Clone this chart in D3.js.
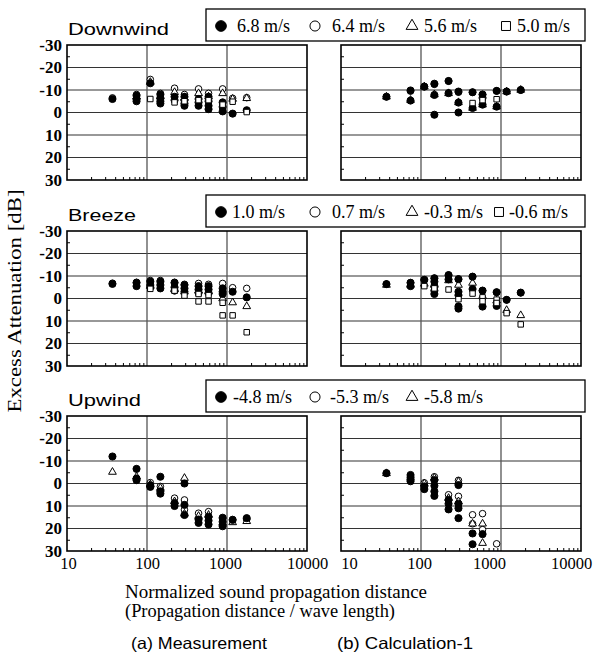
<!DOCTYPE html>
<html>
<head>
<meta charset="utf-8">
<script src="https://cdn.jsdelivr.net/npm/d3@7"></script>
<style>
  body { margin: 0; background: #fff; }
  svg { display: block; }
</style>
</head>
<body>
<div id="chart"></div>
<script>
// ---- tick values ----
const xTicks = [10, 100, 1000, 10000];
const xMinor = [20, 30, 40, 50, 60, 70, 80, 90, 200, 300, 400, 500, 600, 700, 800, 900,
                2000, 3000, 4000, 5000, 6000, 7000, 8000, 9000];
const yTicks = [-30, -20, -10, 0, 10, 20, 30];
const yMinor = [-25, -15, -5, 5, 15, 25];
const yGrid = [-20, -10, 0, 10, 20];
const xGrid = [100, 1000];

// ---- text ----
const rowTitles = ["Downwind", "Breeze", "Upwind"];
const legendLabels = [
  ["6.8 m/s", "6.4 m/s", "5.6 m/s", "5.0 m/s"],
  ["1.0 m/s", "0.7 m/s", "-0.3 m/s", "-0.6 m/s"],
  ["-4.8 m/s", "-5.3 m/s", "-5.8 m/s"]
];
const columnTitles = ["(a) Measurement", "(b) Calculation-1"];
const yLabel = "Excess Attenuation [dB]";
const xLabel = ["Normalized sound propagation distance", "(Propagation distance / wave length)"];

// ---- data: [distance, excess attenuation dB] ----
// Downwind, measurement
const dwMeasA = [[37,-6],[74,-7.5],[74,-6],[74,-5],[110,-13],[147,-8],[147,-6.5],[147,-5],[147,-4],[221,-7],[221,-5.5],[294,-7],[294,-5.5],[294,-4],[294,-3],[441,-6],[441,-4.5],[441,-3],[588,-7],[588,-5],[588,-3],[588,-1.5],[882,-4.5],[882,-2.5],[882,-0.5],[1176,0.5],[1764,-1]];
const dwMeasB = [[37,-6.5],[74,-8],[110,-14.7],[147,-8.5],[221,-10.8],[294,-8],[441,-10.5],[588,-8.5],[882,-10.5],[1176,-6.3],[1764,-6.6]];
const dwMeasC = [[74,-7],[110,-13.5],[147,-7],[221,-9],[294,-6.5],[441,-8.5],[588,-7],[882,-8.5],[1176,-6],[1764,-6.3]];
const dwMeasD = [[110,-6],[221,-4.5],[294,-5],[441,-5.5],[588,-5.5],[882,-3.5],[1176,-4.8],[1764,-0.2]];
// Downwind, calculation
const dwCalcA = [[37,-7],[74,-9.8],[74,-5.3],[110,-11.5],[147,-12.8],[147,-7.8],[147,1],[221,-14],[221,-8.6],[294,-9.3],[294,-4.4],[294,0],[441,-9],[441,-2],[588,-8],[588,-6.5],[588,-3.5],[882,-9.6],[882,-2.6],[1176,-9.3],[1764,-10]];
const dwCalcB = [[37,-7],[74,-9.5],[110,-11.5],[147,-12.5],[221,-14],[294,-9],[441,-9],[588,-8],[882,-9.6],[1176,-9.3],[1764,-10]];
const dwCalcC = [[37,-7],[74,-5.5],[110,-11.5],[147,-8],[221,-8.5],[294,-4.5],[441,-2],[588,-3.5],[882,-2.6],[1176,-9.3],[1764,-10]];
const dwCalcD = [[441,-4.2],[588,-5.5],[882,-5.9]];
// Breeze, measurement
const brMeasA = [[37,-6.5],[74,-7],[74,-5.5],[110,-7.5],[110,-6],[110,-5],[147,-7.5],[147,-6],[147,-4.5],[221,-7],[221,-5],[221,-3.5],[294,-6],[294,-4.5],[294,-3],[441,-5.5],[441,-4],[441,-2.5],[588,-5.5],[588,-4],[588,-2.5],[882,-4.5],[882,-3],[882,-2],[1176,-3],[1764,-0.5]];
const brMeasB = [[37,-6.8],[74,-7.2],[110,-8],[147,-8],[221,-7.2],[294,-6.3],[441,-6.7],[588,-6.3],[882,-6.7],[1176,-4.8],[1764,-4.5]];
const brMeasC = [[110,-5.5],[221,-4],[294,-3],[441,-3.5],[588,-3],[882,0],[1176,1.8],[1764,3.5]];
const brMeasD = [[110,-4.3],[221,-3.5],[294,-1.3],[441,-2],[441,1.3],[588,-1.5],[588,1.3],[882,1.9],[882,7.5],[1176,7.5],[1764,15]];
// Breeze, calculation
const brCalcA = [[37,-6.4],[74,-7],[74,-5.5],[110,-8.3],[147,-9],[147,-7.5],[147,-5.5],[147,-3.5],[147,-2],[221,-10.4],[221,-8.5],[294,-8.6],[294,-3],[294,-1.5],[294,3.5],[294,4.5],[441,-9.7],[441,-4.2],[588,-3.5],[588,3.6],[882,-2.8],[882,3.3],[1176,0.6],[1764,-2.6]];
const brCalcB = [[37,-6.4],[74,-7],[110,-8.3],[147,-9],[221,-10.4],[294,-8.6],[441,-9.7],[588,-3.5],[882,-2.8],[1176,0.6],[1764,-2.6]];
const brCalcC = [[37,-6],[74,-6],[110,-6.5],[147,-6],[221,-8],[294,-6],[441,-6.9],[588,-1],[882,1],[1176,5.2],[1764,7.5]];
const brCalcD = [[110,-5.5],[147,-4.5],[221,-4],[294,0.3],[441,-2.2],[588,-0.5],[588,1.2],[882,0.5],[882,2],[1176,6.5],[1764,11.5]];
// Upwind, measurement
const upMeasA = [[37,-12],[74,-6.5],[74,-2.2],[74,-1.5],[110,0.8],[110,1.5],[147,-3],[147,3.5],[147,4.5],[221,8.7],[221,10],[294,0],[294,9.5],[294,14],[441,16],[441,17.5],[588,14.8],[588,16.5],[588,18.2],[882,15.2],[882,17],[882,19],[1176,16.2],[1764,15.4]];
const upMeasB = [[110,-0.4],[147,1.3],[221,6.5],[294,7.3],[294,11.7],[441,13.2],[588,12.5],[882,15.5],[1176,16],[1764,16]];
const upMeasC = [[37,-5.1],[74,-3],[110,0.5],[147,2],[221,8],[294,-2.4],[294,13.5],[441,14.5],[588,14],[882,17.5],[1176,17.3],[1764,16.8]];
// Upwind, calculation
const upCalcA = [[37,-4.6],[74,-3.8],[74,-2.5],[74,-1],[110,1.3],[110,2.5],[147,-1.5],[147,1],[147,3.5],[147,5.5],[221,7.3],[221,9],[221,11.5],[294,0.7],[294,9],[294,11],[294,15.4],[441,22.2],[441,27],[588,22.5]];
const upCalcB = [[37,-4.6],[74,-3],[110,-0.3],[147,-3],[221,5],[294,-1.4],[294,5.7],[441,13.9],[441,17.9],[588,13.4],[588,20.5],[882,26.8]];
const upCalcC = [[37,-4.5],[74,-2.5],[110,0],[147,-2.5],[221,6.5],[294,-0.8],[294,8],[441,17.9],[588,17.9],[588,26.5]];

// panels[row][col] -> list of series (filled circle, open circle, triangle, square)
const panels = [
  [[dwMeasA, dwMeasB, dwMeasC, dwMeasD], [dwCalcA, dwCalcB, dwCalcC, dwCalcD]],
  [[brMeasA, brMeasB, brMeasC, brMeasD], [brCalcA, brCalcB, brCalcC, brCalcD]],
  [[upMeasA, upMeasB, upMeasC], [upCalcA, upCalcB, upCalcC]]
];

// ---- layout ----
const W = 597, H = 663;
const colX = [67, 341], rowY = [45, 231, 416];
const plotW = 240, plotH = 135;
const serif = "'Liberation Serif', 'Times New Roman', serif";
const sans = "'Liberation Sans', Arial, sans-serif";
const titleLen = [101, 68, 73];
const legendSymX = [[221, 315, 412, 506], [221, 315, 412, 499], [221, 315, 412]];
const legendTextX = [[237, 332, 424, 517], [232, 332, 424, 509], [233, 330, 424]];
// x-label nudges for the bottom row, as set in the original figure
const xLabelShift = [[1, 0, -2, 0], [8, -2, -12, -10]];

const styles = [
  { type: d3.symbolCircle,   fill: "#000", size: 40, legendSize: 90 },
  { type: d3.symbolCircle,   fill: "#fff", size: 34, legendSize: 80 },
  { type: d3.symbolTriangle, fill: "#fff", size: 26, legendSize: 60 },
  { type: d3.symbolSquare,   fill: "#fff", size: 30, legendSize: 80 }
];
const drawOrder = [1, 2, 0, 3];

const x = d3.scaleLog().domain([10, 10000]).range([0, plotW]);
const y = d3.scaleLinear().domain([-30, 30]).range([0, plotH]);

const svg = d3.select("#chart").append("svg")
  .attr("width", W).attr("height", H);

rowTitles.forEach((title, r) => {
  const top = rowY[r];

  // row title
  svg.append("text")
    .attr("x", 68).attr("y", top - 10.5)
    .attr("font-family", sans).attr("font-size", 16)
    .attr("textLength", titleLen[r]).attr("lengthAdjust", "spacingAndGlyphs")
    .text(title);

  // legend box
  const lg = svg.append("g");
  lg.append("rect")
    .attr("x", 206).attr("y", top - 36).attr("width", 379).attr("height", 32)
    .attr("fill", "#fff").attr("stroke", "#000").attr("stroke-width", 1.3);
  legendLabels[r].forEach((lab, i) => {
    const st = styles[i];
    lg.append("path")
      .attr("transform", `translate(${legendSymX[r][i]},${top - 19})`)
      .attr("d", d3.symbol().type(st.type).size(st.legendSize)())
      .attr("fill", st.fill).attr("stroke", "#000").attr("stroke-width", 1);
    lg.append("text")
      .attr("x", legendTextX[r][i]).attr("y", top - 13)
      .attr("font-family", serif).attr("font-size", 18)
      .text(lab);
  });

  [0, 1].forEach(c => {
    const g = svg.append("g").attr("transform", `translate(${colX[c]},${top})`);

    // grid lines
    g.append("g").selectAll("line").data(yGrid).join("line")
      .attr("x1", 0).attr("x2", plotW)
      .attr("y1", d => y(d)).attr("y2", d => y(d))
      .attr("stroke", "#333").attr("stroke-width", 1.2);
    g.append("g").selectAll("line").data(xGrid).join("line")
      .attr("x1", d => x(d)).attr("x2", d => x(d))
      .attr("y1", 0).attr("y2", plotH)
      .attr("stroke", "#555").attr("stroke-width", 1.3);

    // inner minor ticks
    const ym = g.append("g")
      .call(d3.axisRight(y).tickValues(yMinor).tickSize(3).tickFormat(""));
    ym.select(".domain").remove();
    const xm = g.append("g").attr("transform", `translate(0,${plotH})`)
      .call(d3.axisTop(x).tickValues(xMinor).tickSize(3).tickFormat(""));
    xm.select(".domain").remove();

    // frame
    g.append("rect")
      .attr("width", plotW).attr("height", plotH)
      .attr("fill", "none").attr("stroke", "#000").attr("stroke-width", 1.6);

    // y tick labels (left column), plain hyphen minus as in the figure
    if (c === 0) {
      const ya = g.append("g")
        .call(d3.axisLeft(y).tickValues(yTicks).tickSize(0).tickPadding(5)
          .tickFormat(d => String(d)));
      ya.select(".domain").remove();
      ya.selectAll("text")
        .attr("font-family", serif).attr("font-size", 17).attr("font-weight", "bold")
        .attr("fill", "#000");
    }
    // x tick labels (bottom row)
    if (r === 2) {
      const xa = g.append("g").attr("transform", `translate(0,${plotH})`)
        .call(d3.axisBottom(x).tickValues(xTicks).tickSize(0).tickPadding(6)
          .tickFormat(d3.format("d")));
      xa.select(".domain").remove();
      xa.selectAll("text")
        .attr("font-family", serif).attr("font-size", 16.5).attr("fill", "#000")
        .attr("dx", (d, i) => xLabelShift[c][i]);
    }

    // points
    const series = panels[r][c];
    drawOrder.forEach(si => {
      if (!series[si]) return;
      const st = styles[si];
      g.append("g").selectAll("path").data(series[si]).join("path")
        .attr("transform", d => `translate(${x(d[0])},${y(d[1])})`)
        .attr("d", d3.symbol().type(st.type).size(st.size)())
        .attr("fill", st.fill).attr("stroke", "#000").attr("stroke-width", 1);
    });
  });
});

// y axis label
svg.append("text")
  .attr("transform", "translate(21,301) rotate(-90)")
  .attr("text-anchor", "middle")
  .attr("font-family", serif).attr("font-size", 19)
  .attr("textLength", 223).attr("lengthAdjust", "spacingAndGlyphs")
  .text(yLabel);

// x axis label
svg.append("text")
  .attr("x", 125).attr("y", 598)
  .attr("font-family", serif).attr("font-size", 18.5)
  .attr("textLength", 302).attr("lengthAdjust", "spacingAndGlyphs")
  .text(xLabel[0]);
svg.append("text")
  .attr("x", 125).attr("y", 617)
  .attr("font-family", serif).attr("font-size", 18.5)
  .attr("textLength", 270).attr("lengthAdjust", "spacingAndGlyphs")
  .text(xLabel[1]);

// column captions
[199, 405].forEach((cx, i) => {
  svg.append("text")
    .attr("x", cx).attr("y", 649)
    .attr("text-anchor", "middle")
    .attr("font-family", sans).attr("font-size", 16.5)
    .attr("textLength", 136).attr("lengthAdjust", "spacingAndGlyphs")
    .text(columnTitles[i]);
});
</script>
</body>
</html>
